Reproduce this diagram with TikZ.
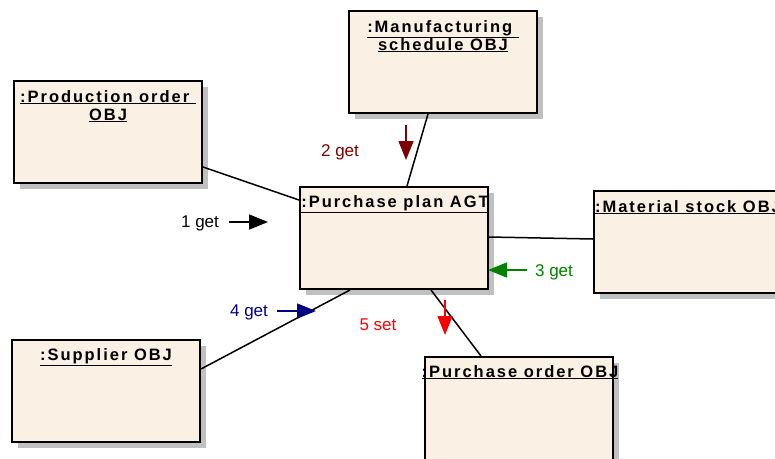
\documentclass[tikz,border=0pt]{standalone}
\usepackage{fontspec}
\setmainfont{Liberation Sans}
\newfontfamily\titlefont{Liberation Sans}[LetterSpace=12]
\usetikzlibrary{arrows.meta,calc,shadows}

\definecolor{boxfill}{RGB}{250,240,228}
\definecolor{shadowgray}{RGB}{192,192,192}
\definecolor{msgdarkred}{RGB}{128,0,0}
\definecolor{msggreen}{RGB}{0,128,0}
\definecolor{msgnavy}{RGB}{0,0,128}
\definecolor{msgred}{RGB}{255,0,0}

\tikzset{
  objbox/.style={draw=black, line width=2pt, fill=boxfill, rectangle,
    minimum width=188pt, minimum height=102pt, inner sep=0pt, anchor=north west,
    general shadow={fill=shadowgray, shadow xshift=6pt, shadow yshift=-6pt}},
  objtitle/.style={anchor=base, inner sep=0pt, align=center,
    font=\titlefont\bfseries\fontsize{16.5}{18}\selectfont},
  link/.style={draw=black, line width=1.5pt},
  msg/.style={line width=1.5pt, -{Triangle[length=19pt,width=15pt]}},
  msglabel/.style={font=\fontsize{17}{20}\selectfont, inner sep=0pt}
}

\begin{document}
\begin{tikzpicture}[x=1pt,y=-1pt]
  \useasboundingbox (0,0) rectangle (775,458);

  % object boxes
  \node[objbox] (mfg)  at (348,10)  {};
  \node[objbox] (prod) at (13,80)   {};
  \node[objbox] (plan) at (299,186) {};
  \node[objbox] (mat)  at (593,190) {};
  \node[objbox] (sup)  at (11,339)  {};
  \node[objbox, minimum height=112pt] (po) at (424,356) {};

  % titles (a two-line title sits on the baseline of its last line)
  \node[objtitle] (mfgT)  at ($(mfg.north)+(0,40)$)  {\underline{:Manufacturing\ }\\\underline{schedule OBJ}};
  \node[objtitle] (prodT) at ($(prod.north)+(0,40)$) {\underline{:Production order\ }\\\underline{OBJ}};
  \node[objtitle] (planT) at ($(plan.north)+(1,21)$) {\underline{:Purchase plan AGT}};
  \node[objtitle] (matT)  at ($(mat.north)+(0,22)$)  {\underline{:Material stock OBJ}};
  \node[objtitle] (supT)  at ($(sup.north)+(0,21)$)  {\underline{:Supplier OBJ}};
  \node[objtitle] (poT)   at ($(po.north)+(1,21)$)   {\underline{:Purchase order OBJ}};

  % links
  \draw[link] ([xshift=80pt]mfg.south west) -- ([xshift=108pt]plan.north west);
  \draw[link] ([yshift=17pt]prod.south east) -- ([yshift=-14pt]plan.north west);
  \draw[link] ([yshift=-51pt]plan.north east) -- ([yshift=-49pt]mat.north west);
  \draw[link] ([xshift=51pt]plan.south west) -- ([yshift=-30pt]sup.north east);
  \draw[link] ([xshift=132pt]plan.south west) -- ([xshift=57pt]po.north west);

  % message arrows
  \coordinate (m1s) at (229,222); \coordinate (m1e) at (268,222);
  \coordinate (m2s) at (406,125); \coordinate (m2e) at (406,160);
  \coordinate (m3s) at (527,270); \coordinate (m3e) at (488,270);
  \coordinate (m4s) at (277,311); \coordinate (m4e) at (316,311);
  \coordinate (m5s) at (445,300); \coordinate (m5e) at (445,335);

  \draw[msg, draw=black, fill=black] (m1s) -- (m1e);
  \draw[msg, draw=msgdarkred, fill=msgdarkred] (m2s) -- (m2e);
  \draw[msg, draw=msggreen, fill=msggreen] (m3s) -- (m3e);
  \draw[msg, draw=msgnavy, fill=msgnavy] (m4s) -- (m4e);
  \draw[msg, draw=msgred, fill=msgred] (m5s) -- (m5e);

  \node[msglabel, text=black]      (l1) at (200,223) {1 get};
  \node[msglabel, text=msgdarkred] (l2) at (340,152) {2 get};
  \node[msglabel, text=msggreen]   (l3) at (554,272) {3 get};
  \node[msglabel, text=msgnavy]    (l4) at (249,312) {4 get};
  \node[msglabel, text=msgred]     (l5) at (378,325) {5 set};
\end{tikzpicture}
\end{document}
